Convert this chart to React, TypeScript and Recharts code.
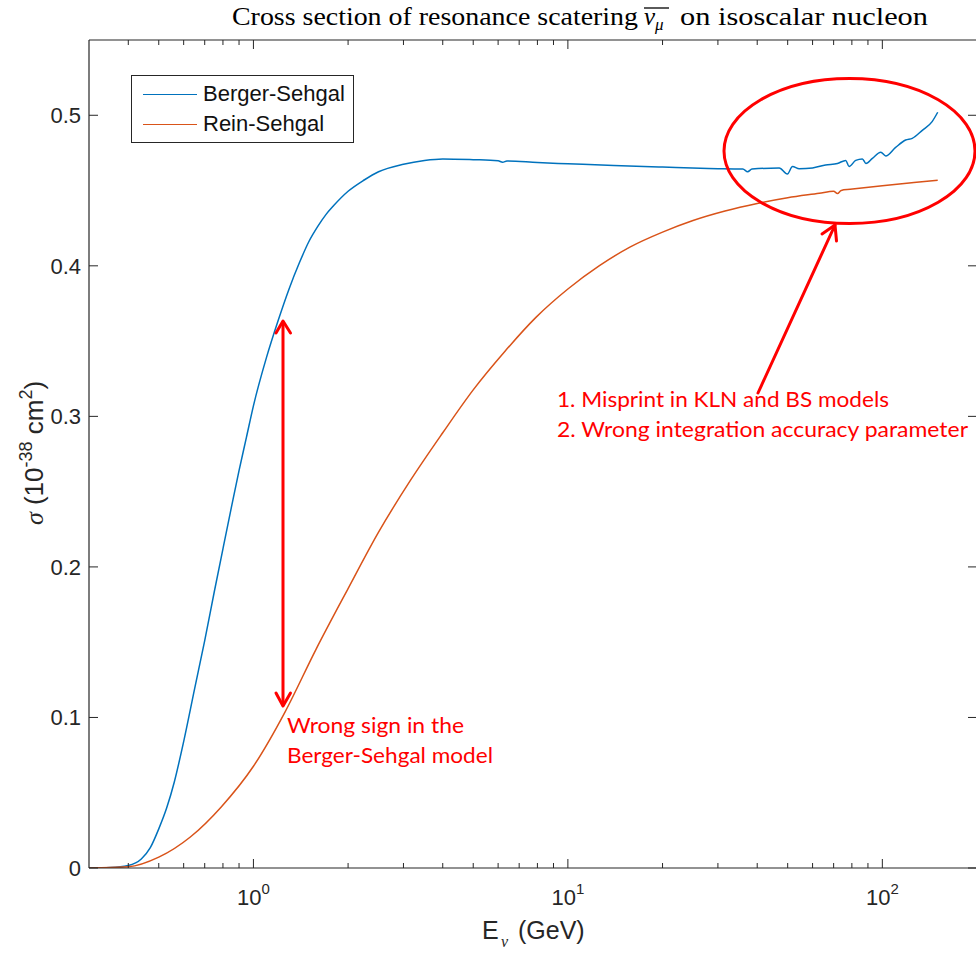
import React from "react";
import { LineChart, Line, XAxis, YAxis, Legend } from "recharts";

// Berger-Sehgal (blue) and Rein-Sehgal (orange), sigma in 1e-38 cm^2, E in GeV
const energyBS = [
  0.3, 0.35, 0.4, 0.44, 0.47, 0.5, 0.53, 0.56, 0.6, 0.65, 0.7, 0.75, 0.8,
  0.85, 0.9, 0.95, 1.0, 1.1, 1.2, 1.3, 1.4, 1.5, 1.6, 1.7, 1.8, 2.0, 2.25, 2.5,
  3.0, 3.5, 4.0, 5.0, 6.0, 6.2, 6.4, 8, 10, 14, 20, 28, 36, 37.3, 38.5, 47,
  49.9, 51.8, 54.4, 60, 66, 72, 76.5, 78.4, 82.3, 86.4, 88.7, 93, 98.9, 102.5,
  110, 118.6, 124.5, 134, 144, 150,
];
const sigmaBS = [
  0.0, 0.0003, 0.0017, 0.006, 0.0135, 0.026, 0.04, 0.057, 0.084, 0.119, 0.151,
  0.183, 0.212, 0.239, 0.264, 0.286, 0.307, 0.339, 0.364, 0.385, 0.402, 0.416,
  0.426, 0.434, 0.44, 0.4495, 0.457, 0.4625, 0.4675, 0.47, 0.471, 0.4705,
  0.4698, 0.4688, 0.4697, 0.4686, 0.4678, 0.4666, 0.4656, 0.4647, 0.4643,
  0.4625, 0.4643, 0.465, 0.461, 0.466, 0.4645, 0.465, 0.467, 0.468, 0.47,
  0.466, 0.47, 0.471, 0.468, 0.4714, 0.4754, 0.473, 0.4785, 0.4836, 0.4847,
  0.49, 0.4958, 0.502,
];

const energyRS = [
  0.3, 0.32, 0.4, 0.5, 0.63, 0.79, 1, 1.26, 1.58, 2, 2.5, 3.16, 4, 5, 6.3, 7.9,
  10, 12.6, 15.8, 20, 25, 31.6, 40, 50, 63, 70, 72, 74, 79, 100, 126, 150,
];
const sigmaRS = [
  0.0, 0.0001, 0.0008, 0.0072, 0.0206, 0.0406, 0.0676, 0.1036, 0.1451, 0.1856,
  0.2231, 0.2576, 0.2891, 0.3176, 0.3431, 0.3656, 0.3846, 0.4001, 0.4126,
  0.4224, 0.4301, 0.4364, 0.4414, 0.4452, 0.4482, 0.4496, 0.448, 0.4501,
  0.4508, 0.4532, 0.4553, 0.4568,
];

const xMajor = [1, 10, 100];
const xTicks = [
  0.4, 0.5, 0.6, 0.7, 0.8, 0.9, 1, 2, 3, 4, 5, 6, 7, 8, 9, 10, 20, 30, 40, 50,
  60, 70, 80, 90, 100,
];
const yTicks = [0, 0.1, 0.2, 0.3, 0.4, 0.5];

const bsData = energyBS.map((e, i) => ({ energy: e, sigma: sigmaBS[i] }));
const rsData = energyRS.map((e, i) => ({ energy: e, sigma: sigmaRS[i] }));

const AXIS = "#262626";
const SANS = "'Liberation Sans', Arial, sans-serif";
const SERIF = "'Liberation Serif', 'Times New Roman', serif";
const NOTE = "Lato, 'Open Sans', sans-serif";
const RED = "#FF0000";

const XTick = ({ x, y, payload, side }: any) => {
  const v = payload.value;
  const major = xMajor.includes(v);
  const len = major ? 9 : 5;
  const dir = side === "top" ? 1 : -1;
  return (
    <g>
      <line x1={x} x2={x} y1={y} y2={y + dir * len} stroke={AXIS} strokeWidth={1} />
      {side === "bottom" && major && (
        <text x={x} y={y + 37} textAnchor="middle" fontFamily={SANS} fontSize={22} fill={AXIS}>
          10
          <tspan dy={-11} fontSize={15}>
            {Math.round(Math.log10(v))}
          </tspan>
        </text>
      )}
    </g>
  );
};

const YTick = ({ x, y, payload, side }: any) => {
  const v = payload.value;
  const dir = side === "left" ? 1 : -1;
  return (
    <g>
      <line x1={x} x2={x + dir * 9} y1={y} y2={y} stroke={AXIS} strokeWidth={1} />
      {side === "left" && (
        <text x={x - 8} y={y} dy="0.36em" textAnchor="end" fontFamily={SANS} fontSize={22} fill={AXIS}>
          {v === 0 ? "0" : v.toFixed(1)}
        </text>
      )}
    </g>
  );
};

const LegendBox = ({ payload }: any) => (
  <div
    style={{
      position: "relative",
      width: 223,
      height: 68,
      boxSizing: "border-box",
      border: `1px solid ${AXIS}`,
      background: "#fff",
    }}
  >
    {(payload || []).map((p: any, i: number) => (
      <div
        key={p.value}
        style={{
          position: "absolute",
          left: 11,
          top: 4 + i * 30,
          height: 28,
          display: "flex",
          alignItems: "center",
        }}
      >
        <div style={{ width: 54, borderTop: `1.5px solid ${p.color}`, marginRight: 6 }} />
        <span style={{ fontFamily: SANS, fontSize: 22, color: "#111", lineHeight: "28px" }}>
          {p.value}
        </span>
      </div>
    ))}
  </div>
);

export default function App() {
  return (
    <div
      style={{
        position: "absolute",
        left: 0,
        top: 0,
        width: 976,
        height: 953,
        overflow: "hidden",
        background: "#fff",
      }}
    >
      <LineChart width={990} height={953} margin={{ top: 30, right: 0, bottom: 0, left: 29 }}>
        <XAxis
          xAxisId="bottom"
          dataKey="energy"
          type="number"
          scale="log"
          domain={[0.3, 200]}
          allowDataOverflow
          ticks={xTicks}
          interval={0}
          height={85}
          tickSize={0}
          tickMargin={0}
          tickLine={false}
          axisLine={{ stroke: AXIS, strokeWidth: 1.2 }}
          tick={(p: any) => <XTick {...p} side="bottom" />}
        />
        <XAxis
          xAxisId="top"
          orientation="top"
          dataKey="energy"
          type="number"
          scale="log"
          domain={[0.3, 200]}
          allowDataOverflow
          ticks={xTicks}
          interval={0}
          height={10}
          tickSize={0}
          tickMargin={0}
          tickLine={false}
          axisLine={{ stroke: AXIS, strokeWidth: 1.2 }}
          tick={(p: any) => <XTick {...p} side="top" />}
        />
        <YAxis
          yAxisId="left"
          type="number"
          domain={[0, 0.55]}
          allowDataOverflow
          ticks={yTicks}
          interval={0}
          width={60}
          tickSize={0}
          tickMargin={0}
          tickLine={false}
          axisLine={{ stroke: AXIS, strokeWidth: 1.2 }}
          tick={(p: any) => <YTick {...p} side="left" />}
        />
        <YAxis
          yAxisId="right"
          orientation="right"
          type="number"
          domain={[0, 0.55]}
          allowDataOverflow
          ticks={yTicks}
          interval={0}
          width={13}
          tickSize={0}
          tickMargin={0}
          tickLine={false}
          axisLine={{ stroke: AXIS, strokeWidth: 1.2 }}
          tick={(p: any) => <YTick {...p} side="right" />}
        />
        <Legend
          layout="vertical"
          align="center"
          verticalAlign="middle"
          content={<LegendBox />}
          wrapperStyle={{ left: 131, top: 75, width: 223, height: 68 }}
        />
        <Line
          xAxisId="bottom"
          yAxisId="left"
          data={bsData}
          dataKey="sigma"
          name="Berger-Sehgal"
          type="monotone"
          stroke="#0072BD"
          strokeWidth={1.5}
          dot={false}
          isAnimationActive={false}
        />
        <Line
          xAxisId="bottom"
          yAxisId="left"
          data={rsData}
          dataKey="sigma"
          name="Rein-Sehgal"
          type="monotone"
          stroke="#D95319"
          strokeWidth={1.5}
          dot={false}
          isAnimationActive={false}
        />
      </LineChart>

      {/* title, axis labels and the hand-drawn annotations */}
      <svg
        width={976}
        height={953}
        style={{ position: "absolute", left: 0, top: 0, pointerEvents: "none" }}
      >
        <text x={232} y={25} fontFamily={SERIF} fontSize={25} fill="#000" textLength={406} lengthAdjust="spacingAndGlyphs">
          Cross section of resonance scatering
        </text>
        <text x={644} y={25} fontFamily={SERIF} fontSize={25} fontStyle="italic" fill="#000">
          ν
          <tspan fontSize={17} dy={5}>
            μ
          </tspan>
        </text>
        <line x1={644} x2={669} y1={8} y2={8} stroke="#000" strokeWidth={1.3} />
        <text x={680} y={25} fontFamily={SERIF} fontSize={25} fill="#000" textLength={248} lengthAdjust="spacingAndGlyphs">
          on isoscalar nucleon
        </text>

        <text fontFamily={SANS} fontSize={25} fill={AXIS}>
          <tspan x={482} y={939}>E</tspan>
          <tspan x={501} y={947} fontFamily={SERIF} fontStyle="italic" fontSize={16}>
            ν
          </tspan>
          <tspan x={518} y={939}>(GeV)</tspan>
        </text>

        <text
          transform="translate(43,453) rotate(-90)"
          textAnchor="middle"
          fontFamily={SANS}
          fontSize={26}
          fill={AXIS}
        >
          <tspan fontFamily={SERIF} fontStyle="italic">σ</tspan>
          <tspan> (10</tspan>
          <tspan dy={-11} fontSize={18}>-38</tspan>
          <tspan dy={11}> cm</tspan>
          <tspan dy={-11} fontSize={18}>2</tspan>
          <tspan dy={11}>)</tspan>
        </text>

        <g stroke={RED} strokeWidth={3} fill="none" strokeLinecap="round" strokeLinejoin="round">
          <ellipse cx={849.5} cy={151} rx={125.5} ry={72.5} />
          <line x1={758} y1={393} x2={835} y2={225} />
          <polyline points="822,234 835,225 836.5,241" />
          <line x1={283} y1={322} x2={283} y2={705} />
          <polyline points="276,333 283,321 290.5,333" />
          <polyline points="276,693 283,706 290.5,693" />
        </g>

        <g fontFamily={NOTE} fontSize={21} fill={RED}>
          <text x={557} y={407} textLength={332} lengthAdjust="spacingAndGlyphs">
            1. Misprint in KLN and BS models
          </text>
          <text x={557} y={437} textLength={411} lengthAdjust="spacingAndGlyphs">
            2. Wrong integration accuracy parameter
          </text>
          <text x={287} y={733} textLength={177} lengthAdjust="spacingAndGlyphs">
            Wrong sign in the
          </text>
          <text x={287} y={763} textLength={206} lengthAdjust="spacingAndGlyphs">
            Berger-Sehgal model
          </text>
        </g>
      </svg>
    </div>
  );
}
